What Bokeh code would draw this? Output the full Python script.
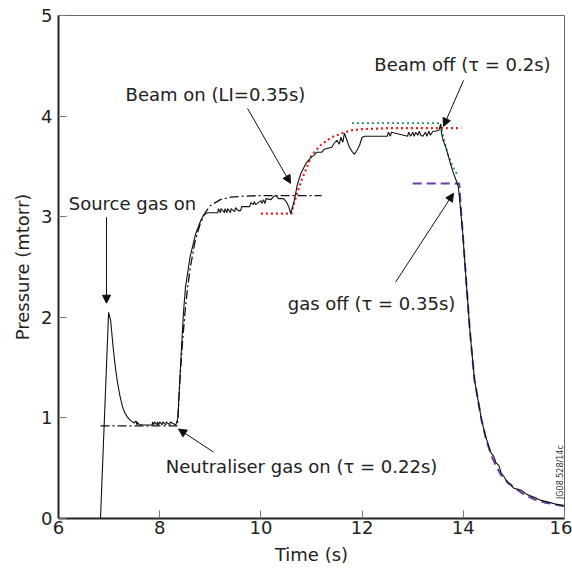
import math
from bokeh.plotting import figure
from bokeh.models import Arrow, NormalHead, Label, FixedTicker
from bokeh.embed import file_html
from bokeh.resources import INLINE

time_s = [6.83, 6.99, 7.03, 7.08, 7.12, 7.16, 7.21, 7.26, 7.31, 7.36, 7.41, 7.46, 7.50, 7.53, 7.55, 7.56,
          7.58, 7.65, 7.85, 7.86, 7.88, 7.90, 7.95, 7.96, 7.98, 8.00, 8.05, 8.06, 8.12, 8.13, 8.20, 8.21, 8.32,
          8.36, 8.42, 8.47, 8.51, 8.60, 8.71, 8.81, 8.87, 8.95, 9.15, 9.16, 9.20, 9.21, 9.28, 9.29, 9.33,
          9.34, 9.40, 9.41, 9.48, 9.50, 9.55, 9.60, 9.62, 9.65, 9.78, 9.80, 9.85, 9.87, 9.90, 10.00, 10.02,
          10.05, 10.08, 10.10, 10.20, 10.25, 10.30, 10.35, 10.45, 10.50, 10.55, 10.59, 10.66, 10.72, 10.79,
          10.89, 10.99, 11.05, 11.10, 11.20, 11.25, 11.40, 11.45, 11.50, 11.55, 11.58, 11.62, 11.65, 11.70,
          11.75, 11.80, 11.85, 11.90, 11.95, 12.00, 12.05, 12.50, 12.52, 12.56, 12.58, 12.90, 12.92, 12.96,
          13.00, 13.03, 13.06, 13.10, 13.13, 13.16, 13.20, 13.25, 13.28, 13.32, 13.35, 13.40, 13.45, 13.52,
          13.55, 13.57, 13.60, 13.65, 13.70, 13.75, 13.80, 13.86, 13.90, 13.93, 13.99, 14.06, 14.13, 14.22,
          14.36, 14.45, 14.55, 14.60, 14.65, 14.70, 14.75, 14.80, 14.88, 14.95, 15.00, 15.15, 15.25, 15.35,
          15.45, 15.54, 15.70, 15.85, 16.00]
pressure = [0.00, 2.05, 1.97, 1.70, 1.52, 1.37, 1.23, 1.12, 1.05, 1.01, 0.98, 0.96, 0.95, 0.97, 0.93, 0.96,
            0.94, 0.93, 0.93, 0.96, 0.93, 0.96, 0.93, 0.96, 0.93, 0.96, 0.93, 0.96, 0.93, 0.96, 0.93, 0.96, 0.93,
            1.00, 1.60, 2.05, 2.30, 2.60, 2.83, 2.96, 3.02, 3.04, 3.04, 3.08, 3.04, 3.08, 3.04, 3.08, 3.04,
            3.08, 3.04, 3.08, 3.05, 3.09, 3.06, 3.06, 3.10, 3.10, 3.10, 3.14, 3.12, 3.15, 3.12, 3.16, 3.13,
            3.17, 3.13, 3.18, 3.17, 3.20, 3.21, 3.18, 3.18, 3.15, 3.10, 3.03, 3.16, 3.32, 3.43,
            3.53, 3.59, 3.61, 3.64, 3.64, 3.67, 3.69, 3.73, 3.76, 3.72, 3.79, 3.74, 3.83, 3.76,
            3.69, 3.65, 3.62, 3.66, 3.71, 3.79, 3.80, 3.80, 3.84, 3.80, 3.84, 3.80, 3.84, 3.80,
            3.84, 3.80, 3.84, 3.81, 3.85, 3.81, 3.80, 3.84, 3.80, 3.85, 3.81, 3.85, 3.85, 3.86,
            3.92, 3.83, 3.76, 3.70, 3.61, 3.52, 3.44, 3.36, 3.30, 3.16, 2.83, 2.34, 1.87, 1.38,
            0.98, 0.80, 0.65, 0.62, 0.55, 0.53, 0.45, 0.42, 0.35, 0.33, 0.30, 0.28, 0.24, 0.22,
            0.20, 0.18, 0.16, 0.14, 0.13]

# ---- neutraliser gas on fit (tau = 0.22 s), dash-dot ----
neut_t = [6.83, 8.35, 8.40, 8.45, 8.50, 8.55, 8.60, 8.70, 8.80, 8.90, 9.00, 9.20, 9.40, 9.70, 10.00, 11.20]
neut_p = [0.92, 0.92, 1.38, 1.75, 2.05, 2.29, 2.48, 2.76, 2.93, 3.04, 3.11, 3.17, 3.195, 3.205, 3.21, 3.21]

# ---- beam on fit (LI = 0.35 s), red dotted ----
bon_t = [10.00, 10.60, 10.70, 10.80, 10.90, 11.00, 11.20, 11.40, 11.60, 11.80, 12.00, 12.50, 13.00, 13.96]
bon_p = [3.03, 3.03, 3.21, 3.36, 3.48, 3.61, 3.72, 3.79, 3.83, 3.86, 3.87, 3.88, 3.88, 3.88]

# ---- beam off fit (tau = 0.2 s), green dotted ----
boff_t = [11.80, 13.55, 13.60, 13.65, 13.70, 13.75, 13.80, 13.88]
boff_p = [3.93, 3.93, 3.80, 3.70, 3.62, 3.55, 3.49, 3.42]

# ---- gas off fit (tau = 0.35 s), purple dashed ----
goff_t = [13.00, 13.92, 13.95, 13.99, 14.06, 14.13, 14.22, 14.36, 14.45, 14.55, 14.65, 14.75, 14.88,
          15.00, 15.20, 15.40, 15.60, 15.80, 16.00]
goff_p = [3.33, 3.33, 3.10, 2.83, 2.34, 1.87, 1.38, 0.98, 0.79, 0.63, 0.52, 0.43, 0.36,
          0.31, 0.24, 0.19, 0.16, 0.14, 0.12]

x_ticks = [6, 8, 10, 12, 14, 16]
y_ticks = [0, 1, 2, 3, 4, 5]

FONT = "DejaVu Sans"
TXT = "#222222"

p = figure(width=572, height=572, x_range=(6, 16), y_range=(0, 5),
           output_backend="svg", toolbar_location=None,
           min_border_left=58, min_border_top=15, min_border_right=8, min_border_bottom=54)
p.grid.visible = False
p.outline_line_color = "#666666"
p.outline_line_width = 1
p.background_fill_color = "white"
p.border_fill_color = "white"

for ax in (p.xaxis[0], p.yaxis[0]):
    ax.axis_line_width = 2
    ax.axis_line_color = "#222222"
    ax.major_tick_in = 8
    ax.major_tick_out = 0
    ax.major_tick_line_color = "#777777"
    ax.minor_tick_line_color = None
    ax.major_label_text_font = FONT
    ax.major_label_text_font_size = "18px"
    ax.major_label_text_color = TXT
    ax.axis_label_text_font = FONT
    ax.axis_label_text_font_size = "18px"
    ax.axis_label_text_font_style = "normal"
    ax.axis_label_text_color = TXT

p.xaxis.ticker = FixedTicker(ticks=x_ticks)
p.yaxis.ticker = FixedTicker(ticks=y_ticks)
p.xaxis.axis_label = "Time (s)"
p.yaxis.axis_label = "Pressure (mtorr)"
p.xaxis.major_label_standoff = 2
p.xaxis.axis_label_standoff = 7
p.yaxis.major_label_standoff = 6
p.yaxis.axis_label_standoff = 5

# fits
p.line(neut_t, neut_p, line_color="#111111", line_width=1.3, line_dash="9 3 2 3")
p.line(bon_t, bon_p, line_color="#e3201b", line_width=2.2, line_dash="2 3")
p.line(boff_t, boff_p, line_color="#1f9a55", line_width=1.8, line_dash="2 3")
p.line(goff_t, goff_p, line_color="#6a3fa0", line_width=2.0, line_dash="9 5")
# measured
p.line(time_s, pressure, line_color="#111111", line_width=1.1)

def px2x(px):
    return 6 + (px - 58) / 50.6

def py2y(py):
    return (518.5 - py) / 100.7

def label(text, cx, cy):
    p.add_layout(Label(x=px2x(cx), y=py2y(cy), text=text, text_font=FONT, text_font_size="18px",
                       text_color=TXT, text_align="center", text_baseline="middle"))

def arrow(x0, y0, x1, y1):
    p.add_layout(Arrow(x_start=px2x(x0), y_start=py2y(y0), x_end=px2x(x1), y_end=py2y(y1),
                       line_color="#111111", line_width=1,
                       end=NormalHead(size=8, fill_color="#111111", line_color="#111111")))

label("Source gas on", 132, 203)
arrow(106, 217, 106, 303)
label("Beam on (LI=0.35s)", 215, 94)
arrow(247, 108, 290, 183)
label("Beam off (\u03c4 = 0.2s)", 462, 64)
arrow(463, 80, 443, 126)
label("gas off (\u03c4 = 0.35s)", 371, 303)
arrow(395, 282, 453, 193)
label("Neutraliser gas on (\u03c4 = 0.22s)", 301, 466)
arrow(213, 452, 178, 429)

p.add_layout(Label(x=16.0, y=py2y(499), text="JG08.528/14c", angle=math.pi / 2,
                   text_font=FONT, text_font_size="8px", text_color="#333333",
                   x_offset=-4, text_align="left", text_baseline="middle"))

open("out.html", "w").write(file_html(p, INLINE))
